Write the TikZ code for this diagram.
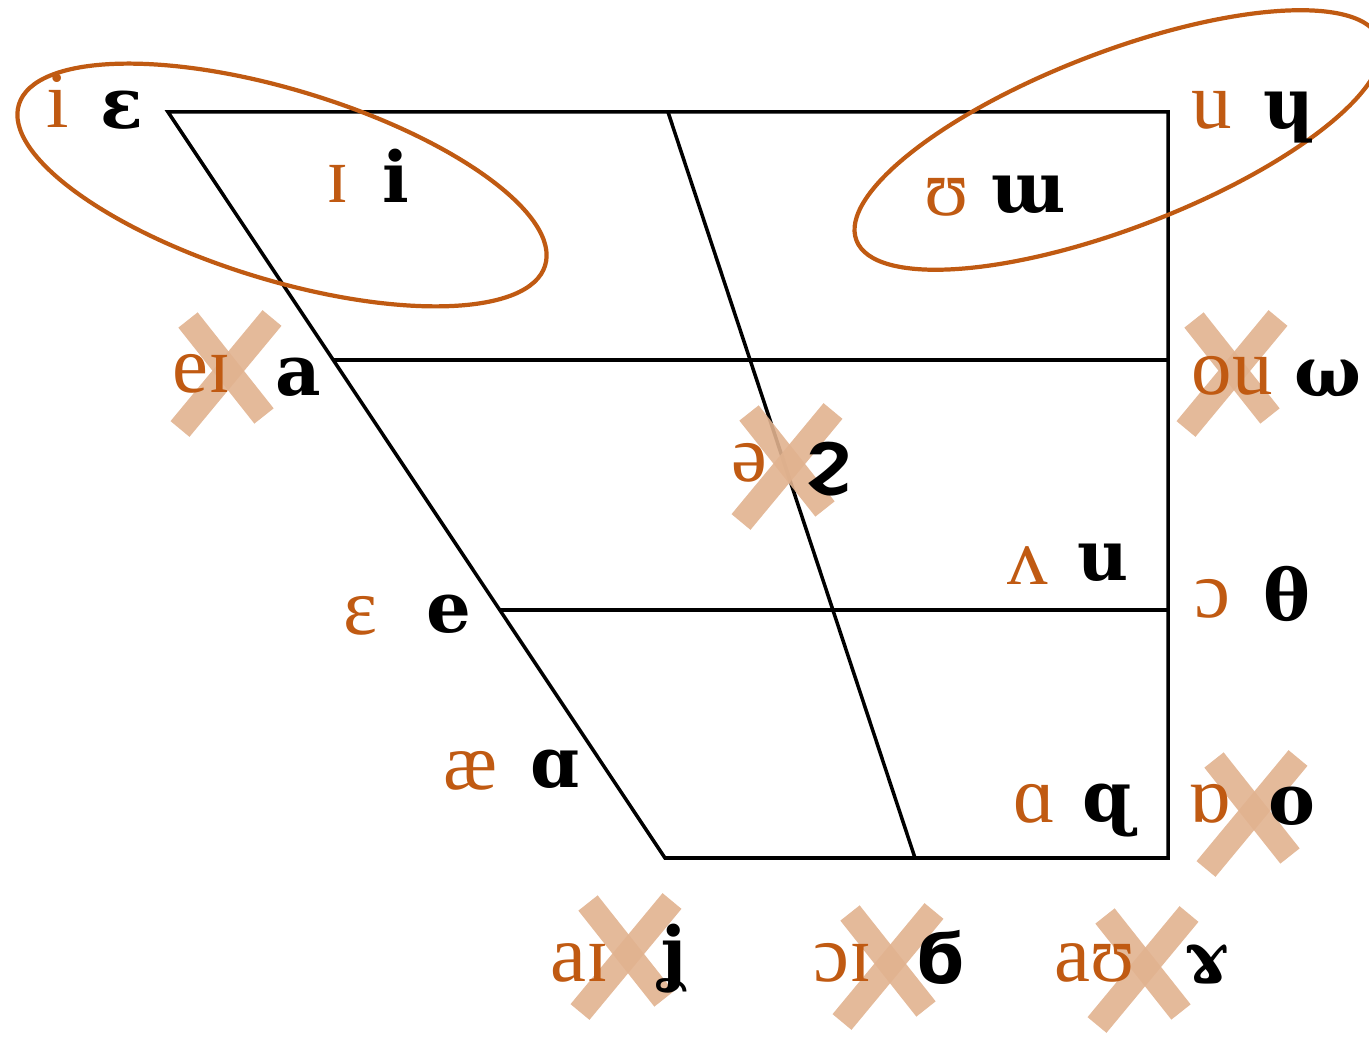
\documentclass[tikz,border=0pt]{standalone}
\usepackage{fontspec}
\newfontfamily\ipafont{Liberation Serif}
\newfontfamily\oldfont{DejaVu Serif}
\newfontfamily\oldsans{DejaVu Sans}
\usetikzlibrary{positioning}
\definecolor{rust}{RGB}{192,90,18}
\definecolor{tape}{RGB}{225,178,143}

\begin{document}
\begin{tikzpicture}[x=0.01cm, y=-0.01cm,
    grid/.style={line width=1pt, line join=miter},
    ring/.style={draw=rust, line width=1.2pt},
    ipa/.style={text=rust, font=\ipafont\fontsize{23}{26}\selectfont, inner sep=0pt, anchor=base},
    old/.style={text=black, font=\oldfont\bfseries\fontsize{20}{24}\selectfont, inner sep=0pt, anchor=base},
    oldalt/.style={old, font=\oldsans\bfseries\fontsize{20}{24}\selectfont},
    strike/.style={draw=tape, line width=7pt, opacity=0.9},
    xmark/.pic={\draw[strike] (-38,-52) -- (38,44); \draw[strike] (46,-54) -- (-46,57);}
  ]
    \useasboundingbox (0,0) rectangle (1369,1037);

    % chart frame
    \coordinate (tl) at (168,112);
    \coordinate (tm) at (668,112);
    \coordinate (tr) at (1168,112);
    \coordinate (br) at (1168,858);
    \coordinate (bm) at (915,858);
    \coordinate (bl) at (665,858);
    \coordinate (ml) at (333,360);
    \coordinate (mr) at (1168,360);
    \coordinate (ll) at (500,610);
    \coordinate (lr) at (1168,610);
    \draw[grid] (tl) -- (tr) -- (br) -- (bl) -- cycle;
    \draw[grid] (tm) -- (bm);
    \draw[grid] (ml) -- (mr);
    \draw[grid] (ll) -- (lr);

    % crossed-out diphthongs
    \foreach \x/\y in {226/372, 787/465, 1232/372, 1252/812, 626/955, 888/965, 1143/968}
      \pic at (\x,\y) {xmark};

    % groups
    \draw[ring, rotate around={-17:(282,185)}] (282,185) ellipse [x radius=2.75cm, y radius=0.95cm];
    \draw[ring, rotate around={21:(1118,140)}] (1118,140) ellipse [x radius=2.8cm, y radius=0.88cm];

    % symbol pairs
    \node[ipa] (i-ipa) at (58,128) {i};
    \node[old] (i-old) at (122,129) {ε};
    \node[ipa] (ih-ipa) at (338,203) {ɪ};
    \node[old] (ih-old) at (396,203) {i};
    \node[ipa] (uh-ipa) at (947,216) {ʊ};
    \node[old] (uh-old) at (1029,213) {ɯ};
    \node[ipa] (u-ipa) at (1212,129) {u};
    \node[old] (u-old) at (1289,129) {ɥ};
    \node[ipa] (ei-ipa) at (202,393) {eɪ};
    \node[old] (ei-old) at (298,396) {a};
    \node[ipa] (schwa-ipa) at (749,482) {ə};
    \node[oldalt] (schwa-old) at (828,482) {ϩ};
    \node[ipa] (ou-ipa) at (1232,395) {ou};
    \node[old] (ou-old) at (1328,397) {ω};
    \node[ipa] (uhv-ipa) at (1028,585) {ʌ};
    \node[old] (uhv-old) at (1103,581) {u};
    \node[ipa] (o-ipa) at (1212,618) {ɔ};
    \node[old] (o-old) at (1287,621) {θ};
    \node[ipa] (e-ipa) at (360,635) {ɛ};
    \node[old] (e-old) at (449,633) {e};
    \node[ipa] (ae-ipa) at (470,790) {æ};
    \node[old] (ae-old) at (555,788) {ɑ};
    \node[ipa] (a-ipa) at (1035,823) {ɑ};
    \node[old] (a-old) at (1107,822) {ɋ};
    \node[ipa] (ab-ipa) at (1210,823) {ɒ};
    \node[old] (ab-old) at (1292,825) {o};
    \node[ipa] (ai-ipa) at (580,982) {aɪ};
    \node[old] (ai-old) at (673,978) {ʝ};
    \node[ipa] (oi-ipa) at (843,982) {ɔɪ};
    \node[oldalt] (oi-old) at (940,984) {ϭ};
    \node[ipa] (au-ipa) at (1095,982) {aʊ};
    \node[old] (au-old) at (1207,982) {ɤ};
\end{tikzpicture}
\end{document}
